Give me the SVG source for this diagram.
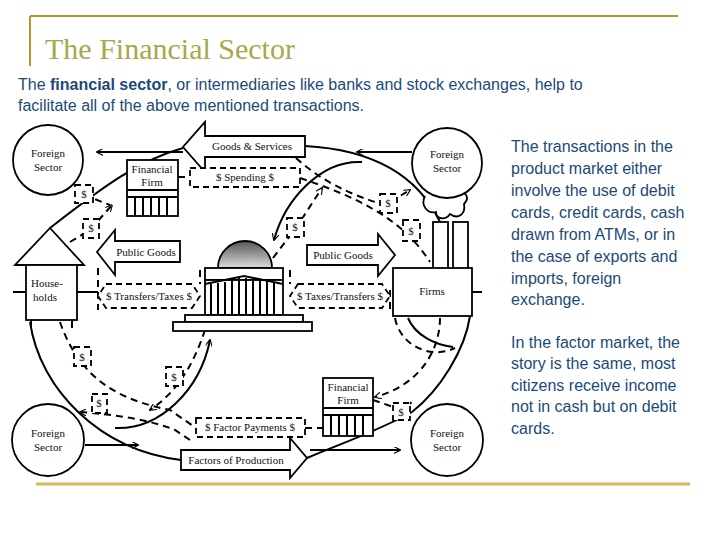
<svg xmlns="http://www.w3.org/2000/svg" width="720" height="540" viewBox="0 0 720 540">
<defs>
<marker id="ah" viewBox="0 0 10 10" refX="9" refY="5" markerWidth="7" markerHeight="7" orient="auto-start-reverse" markerUnits="userSpaceOnUse"><path d="M0,0 L10,5 L0,10" fill="none" stroke="#000" stroke-width="1.6"/></marker>
<linearGradient id="dome" x1="0" y1="0" x2="0" y2="1"><stop offset="0" stop-color="#555"/><stop offset="1" stop-color="#ddd"/></linearGradient>
</defs>
<style>
.s{fill:none;stroke:#000;stroke-width:2}
.d{fill:none;stroke:#000;stroke-width:2;stroke-dasharray:7 5}
.b{fill:#fff;stroke:#000;stroke-width:1.8}
.db{fill:#fff;stroke:#000;stroke-width:1.8;stroke-dasharray:6 4}
.t{font-family:"Liberation Serif",serif;font-size:11px;fill:#111;text-anchor:middle}
.p{font-family:"Liberation Sans",sans-serif;font-size:16px;fill:#1c4a78}
</style>
<rect width="720" height="540" fill="#fff"/>
<g id="frame">
<path d="M30,16 H678" stroke="#b8982e" stroke-width="2"/>
<path d="M30,16 V66" stroke="#b8982e" stroke-width="2"/>
<path d="M36,484 H690" stroke="#d8b860" stroke-width="3"/>
<text x="45" y="59" font-family="Liberation Serif,serif" font-size="30" fill="#a8a84a">The Financial Sector</text>
<text class="p" x="18" y="90">The <tspan font-weight="bold">financial sector</tspan>, or intermediaries like banks and stock exchanges, help to</text>
<text class="p" x="18" y="111">facilitate all of the above mentioned transactions.</text>
<text class="p" x="511" y="152">The transactions in the</text>
<text class="p" x="511" y="174">product market either</text>
<text class="p" x="511" y="196">involve the use of debit</text>
<text class="p" x="511" y="218">cards, credit cards, cash</text>
<text class="p" x="511" y="240">drawn from ATMs, or in</text>
<text class="p" x="511" y="262">the case of exports and</text>
<text class="p" x="511" y="284">imports, foreign</text>
<text class="p" x="511" y="305">exchange.</text>
<text class="p" x="511" y="348">In the factor market, the</text>
<text class="p" x="511" y="369">story is the same, most</text>
<text class="p" x="511" y="391">citizens receive  income</text>
<text class="p" x="511" y="412">not in cash but on debit</text>
<text class="p" x="511" y="434">cards.</text>
</g>
<g id="connectors">
<path class="s" d="M440,222 C420,180 380,150 305,146"/>
<path class="s" d="M183,148 C140,160 105,185 50,228"/>
<path class="s" d="M30,322 C40,390 100,450 181,460"/>
<path class="s" d="M307,458 C350,440 380,430 412,412 C440,390 465,350 470,316"/>
<path class="s" d="M362,162 C320,160 285,200 274,240" marker-end="url(#ah)"/>
<path class="s" d="M408,318 C415,335 435,345 453,347"/>
<path class="s" d="M115,428 C160,430 200,390 210,340" marker-end="url(#ah)"/>
<path class="s" d="M183,152 H97" marker-end="url(#ah)"/>
<path class="s" d="M412,152 H357" marker-end="url(#ah)"/>
<path class="s" d="M85,445 H138" marker-end="url(#ah)"/>
<path class="s" d="M310,450 H400" marker-end="url(#ah)"/>
<path class="s" d="M13,292 H26 M77,292 H98 M472,292 H482"/>
<path class="d" d="M70,242 L90,230 L112,205" marker-end="url(#ah)"/>
<path class="d" d="M84,195 L110,205"/>
<path class="d" d="M178,177 H190"/>
<path class="d" d="M296,158 C320,180 350,195 385,205 L410,190" marker-end="url(#ah)"/>
<path class="d" d="M300,178 C350,195 400,215 430,262"/>
<path class="d" d="M273,258 L296,228 L322,188" marker-end="url(#ah)"/>
<path class="d" d="M98,268 L98,310 M200,270 L200,284 M290,270 V284 M390,290 V310"/>
<path class="d" d="M60,322 C80,380 120,400 170,410 L196,428"/>
<path class="d" d="M205,330 C195,360 180,390 150,410" marker-end="url(#ah)"/>
<path class="d" d="M190,440 L175,430 C150,420 120,415 80,412" marker-end="url(#ah)"/>
<path class="d" d="M305,428 H323"/>
<path class="d" d="M440,318 C440,350 420,385 375,397" marker-end="url(#ah)"/>
<path class="d" d="M395,318 C400,345 430,360 455,348"/>
<path class="d" d="M373,400 L402,410 L412,402"/>
</g>
<g id="dollars">
<rect class="db" x="75" y="185" width="18" height="18"/><text class="t" x="84" y="198">$</text>
<rect class="db" x="83" y="219" width="16" height="19"/><text class="t" x="91" y="232">$</text>
<rect class="db" x="380" y="194" width="17" height="19"/><text class="t" x="388" y="207">$</text>
<rect class="db" x="403" y="220" width="17" height="21"/><text class="t" x="411" y="235">$</text>
<rect class="db" x="287" y="218" width="17" height="19"/><text class="t" x="295" y="231">$</text>
<rect class="db" x="74" y="347" width="17" height="19"/><text class="t" x="82" y="361">$</text>
<rect class="db" x="166" y="367" width="17" height="19"/><text class="t" x="174" y="381">$</text>
<rect class="db" x="92" y="394" width="15" height="19"/><text class="t" x="99" y="407">$</text>
<rect class="db" x="393" y="403" width="17" height="17"/><text class="t" x="401" y="416">$</text>
</g>
<g id="foreign-tl"><circle class="b" cx="48" cy="160" r="35"/><text class="t" x="48" y="157">Foreign</text><text class="t" x="48" y="171">Sector</text></g>
<g id="foreign-tr"><path class="b" d="M425,196 C420,206 428,214 436,212 C436,220 446,220 450,214 C458,220 466,214 464,204 C470,198 466,192 460,192" /><circle class="b" cx="447" cy="163" r="35"/><text class="t" x="447" y="158">Foreign</text><text class="t" x="447" y="172">Sector</text></g>
<g id="foreign-bl"><circle class="b" cx="48" cy="440" r="36"/><text class="t" x="48" y="437">Foreign</text><text class="t" x="48" y="451">Sector</text></g>
<g id="foreign-br"><circle class="b" cx="447" cy="440" r="36"/><text class="t" x="447" y="437">Foreign</text><text class="t" x="447" y="451">Sector</text></g>
<g id="households">
<path class="b" d="M50,228 L84,265 H15 Z"/>
<rect class="b" x="26" y="265" width="51" height="55"/>
<path class="s" d="M31,320 V328 M72,320 V328"/>
<text class="t" x="47" y="287">House-</text><text class="t" x="45" y="301">holds</text>
</g>
<g id="firms">
<rect class="b" x="433" y="222" width="15" height="48"/>
<rect class="b" x="453" y="222" width="15" height="48"/>
<rect class="b" x="393" y="268" width="79" height="48"/>
<text class="t" x="432" y="295">Firms</text>
</g>
<g id="government">
<path d="M218,268 A27,27 0 0 1 272,268 Z" fill="url(#dome)" stroke="#000" stroke-width="1.8"/>
<rect class="b" x="205" y="268" width="78" height="12"/>
<rect class="b" x="205" y="280" width="78" height="35"/>
<path class="s" d="M205,284 L244,276 L283,284" stroke-width="1.5"/>
<path class="s" d="M211,284V315 M218,283V315 M225,282V315 M232,280V315 M239,278V315 M246,278V315 M253,279V315 M260,280V315 M267,281V315 M274,283V315" stroke-width="1.6"/>
<rect class="b" x="185" y="315" width="118" height="7"/>
<rect class="b" x="173" y="322" width="139" height="9"/>
</g>
<g id="finfirm-tl">
<rect class="b" x="127" y="160" width="51" height="56"/>
<path class="s" d="M127,190H178 M127,197H178 M135,197V216 M143,197V216 M151,197V216 M159,197V216 M167,197V216" stroke-width="1.6"/>
<text class="t" x="152" y="173">Financial</text><text class="t" x="152" y="186">Firm</text>
</g>
<g id="finfirm-br">
<rect class="b" x="323" y="378" width="50" height="58"/>
<path class="s" d="M323,408H373 M323,415H373 M331,415V436 M339,415V436 M347,415V436 M355,415V436 M363,415V436" stroke-width="1.6"/>
<text class="t" x="348" y="391">Financial</text><text class="t" x="348" y="404">Firm</text>
</g>
<g id="goods-services"><path class="b" d="M305,136 H205 V122 L183,147 L205,172 V157 H305 Z"/><text class="t" x="252" y="150">Goods &amp; Services</text></g>
<g id="spending"><rect class="db" x="190" y="168" width="110" height="19"/><text class="t" x="245" y="181">$ Spending $</text></g>
<g id="public-goods-l"><path class="b" d="M180,241 H115 V230 L97,252 L115,275 V262 H180 Z"/><text class="t" x="146" y="256">Public Goods</text></g>
<g id="public-goods-r"><path class="b" d="M307,245 H378 V234 L395,255 L378,276 V265 H307 Z"/><text class="t" x="343" y="259">Public Goods</text></g>
<g id="transfers-taxes"><path class="db" d="M106,284 H192 L200,296 L192,308 H106 L98,296 Z"/><text class="t" x="149" y="300">$ Transfers/Taxes $</text></g>
<g id="taxes-transfers"><path class="db" d="M298,284 H382 L390,296 L382,308 H298 L290,296 Z"/><text class="t" x="340" y="300">$ Taxes/Transfers $</text></g>
<g id="factor-payments"><rect class="db" x="196" y="418" width="109" height="19"/><text class="t" x="250" y="431">$ Factor Payments $</text></g>
<g id="factors-production"><path class="b" d="M181,450 H290 V438 L307,458 L290,478 V470 H181 Z"/><text class="t" x="236" y="464">Factors of Production</text></g>
</svg>
